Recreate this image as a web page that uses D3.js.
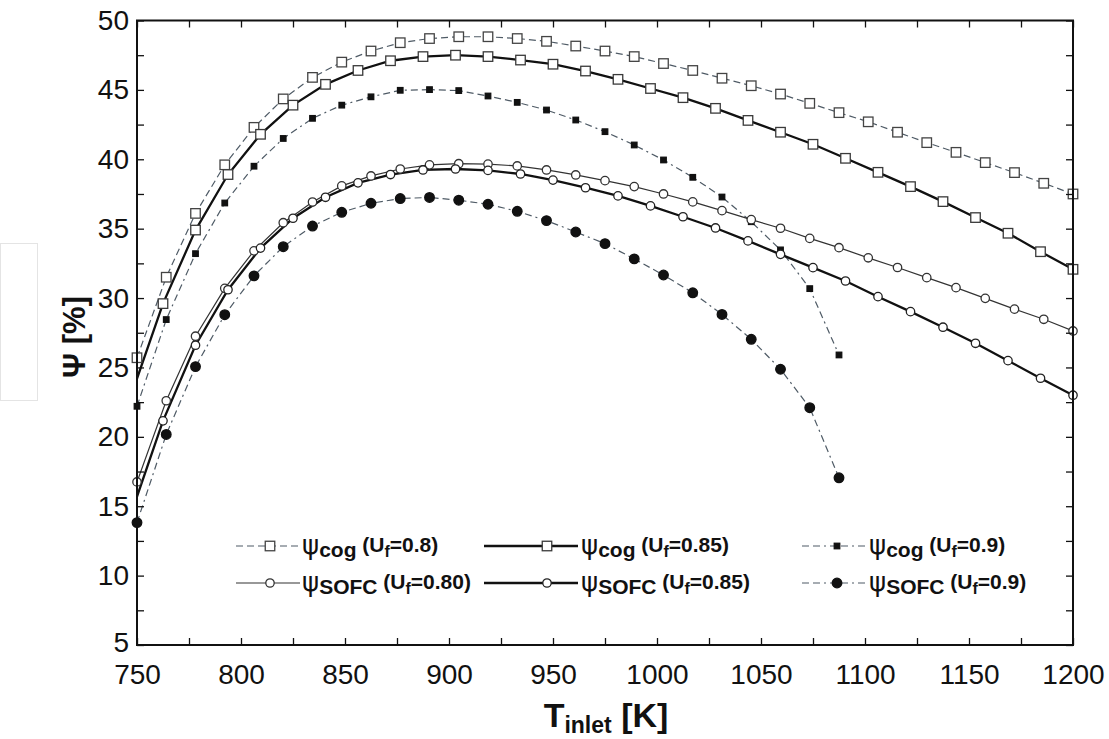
<!DOCTYPE html>
<html><head><meta charset="utf-8">
<script src="https://cdn.jsdelivr.net/npm/d3@7"></script>
<style>
html,body{margin:0;padding:0;background:#fff;}
svg{display:block;}
text{font-family:"Liberation Sans",Arial,sans-serif;}
</style></head>
<body><svg id="c" width="1109" height="739"></svg>
<script>
// ---- data ----
const T_a = [750, 764.06, 778.13, 792.19, 806.25, 820.31, 834.38, 848.44, 862.5, 876.56, 890.63, 904.69, 918.75, 932.81, 946.88, 960.94, 975, 989.06, 1003.13, 1017.19, 1031.25, 1045.31, 1059.38, 1073.44, 1087.5, 1101.56, 1115.63, 1129.69, 1143.75, 1157.81, 1171.88, 1185.94, 1200];
const T_b = [750, 762.5, 778.13, 793.75, 809.38, 825, 840.63, 856.25, 871.88, 887.5, 903.13, 918.75, 934.38, 950, 965.63, 981.25, 996.88, 1012.5, 1028.13, 1043.75, 1059.38, 1075, 1090.63, 1106.25, 1121.88, 1137.5, 1153.13, 1168.75, 1184.38, 1200];
const T_c = [750, 764.06, 778.13, 792.19, 806.25, 820.31, 834.38, 848.44, 862.5, 876.56, 890.63, 904.69, 918.75, 932.81, 946.88, 960.94, 975, 989.06, 1003.13, 1017.19, 1031.25, 1045.31, 1059.38, 1073.44, 1087.5];

const cog080 = [25.7, 31.5, 36.1, 39.6, 42.3, 44.35, 45.9, 47.0, 47.8, 48.4, 48.7, 48.83, 48.83, 48.7, 48.5, 48.16, 47.8, 47.4, 46.9, 46.4, 45.84, 45.3, 44.7, 44.03, 43.36, 42.7, 41.95, 41.2, 40.5, 39.76, 39.04, 38.27, 37.5];
const cog085 = [24.2, 29.6, 34.9, 38.9, 41.8, 43.9, 45.4, 46.4, 47.1, 47.4, 47.5, 47.4, 47.15, 46.85, 46.36, 45.76, 45.1, 44.44, 43.67, 42.8, 41.95, 41.08, 40.07, 39.06, 38.03, 36.95, 35.8, 34.67, 33.34, 32.07];
const cog090 = [22.2, 28.45, 33.2, 36.85, 39.5, 41.5, 42.95, 43.9, 44.5, 44.97, 45.02, 44.95, 44.56, 44.1, 43.55, 42.83, 41.99, 41.03, 39.95, 38.7, 37.28, 35.5, 33.47, 30.68, 25.9];
const sofc080 = [16.75, 22.6, 27.25, 30.7, 33.4, 35.43, 36.92, 38.08, 38.8, 39.3, 39.6, 39.68, 39.65, 39.52, 39.23, 38.87, 38.46, 38.03, 37.5, 36.93, 36.3, 35.65, 35.03, 34.3, 33.63, 32.9, 32.2, 31.47, 30.75, 29.98, 29.2, 28.47, 27.63];
const sofc085 = [15.7, 21.15, 26.6, 30.6, 33.6, 35.75, 37.26, 38.3, 38.9, 39.23, 39.3, 39.2, 38.94, 38.5, 37.95, 37.36, 36.64, 35.86, 35.05, 34.12, 33.15, 32.19, 31.23, 30.1, 29.02, 27.9, 26.74, 25.49, 24.22, 23.0];
const sofc090 = [13.82, 20.17, 25.06, 28.8, 31.6, 33.7, 35.19, 36.18, 36.83, 37.17, 37.25, 37.05, 36.76, 36.25, 35.58, 34.76, 33.92, 32.82, 31.66, 30.38, 28.82, 27.03, 24.87, 22.1, 17.05];

const xTicks = [750, 800, 850, 900, 950, 1000, 1050, 1100, 1150, 1200];
const yTicks = [5, 10, 15, 20, 25, 30, 35, 40, 45, 50];
const legendSub = ["cog", "cog", "cog", "SOFC", "SOFC", "SOFC"];
const legendUf = ["0.8", "0.85", "0.9", "0.80", "0.85", "0.9"];

// ---- chart ----
const svg = d3.select("#c");
const L = 137, R = 1073, TOP = 20.5, BOT = 645;
const x = d3.scaleLinear().domain([750, 1200]).range([L, R]);
const y = d3.scaleLinear().domain([5, 50]).range([BOT, TOP]);

// faint scan artefact box at left
svg.append("rect").attr("x", 0.5).attr("y", 243.5).attr("width", 37).attr("height", 157)
  .attr("fill", "none").attr("stroke", "#e4e4e4").attr("stroke-width", 1);

const dashGray = "#4f5b66";
const series = [
  {T: T_a, v: cog080, line: dashGray, lw: 1.2, dash: "7,4", marker: "sq", size: 9.5, fill: "#fff", mstroke: "#444", skip: 0},
  {T: T_b, v: cog085, line: "#111", lw: 2.3, dash: null, marker: "sq", size: 9.5, fill: "#fff", mstroke: "#3a3a3a", skip: 1},
  {T: T_c, v: cog090, line: dashGray, lw: 1.2, dash: "7,4,7,4,2,4", marker: "sq", size: 5.5, fill: "#111", mstroke: "#111", skip: 0},
  {T: T_a, v: sofc080, line: "#333", lw: 1.2, dash: null, marker: "ci", size: 4.2, fill: "#fff", mstroke: "#333", skip: 0},
  {T: T_b, v: sofc085, line: "#111", lw: 2.3, dash: null, marker: "ci", size: 4.2, fill: "#fff", mstroke: "#222", skip: 1},
  {T: T_c, v: sofc090, line: dashGray, lw: 1.2, dash: "7,4,7,4,2,4", marker: "ci", size: 4.8, fill: "#111", mstroke: "#111", skip: 0}
];

svg.append("clipPath").attr("id", "clip").append("rect")
  .attr("x", L).attr("y", TOP).attr("width", R - L).attr("height", BOT - TOP);

const plot = svg.append("g").attr("clip-path", "url(#clip)");
const lineGen = d3.line().x(d => x(d[0])).y(d => y(d[1]));

function drawMarker(g, s, cx, cy) {
  if (s.marker === "sq") {
    g.append("rect").attr("x", cx - s.size / 2).attr("y", cy - s.size / 2)
      .attr("width", s.size).attr("height", s.size)
      .attr("fill", s.fill).attr("stroke", s.mstroke).attr("stroke-width", 1.3);
  } else {
    g.append("circle").attr("cx", cx).attr("cy", cy).attr("r", s.size)
      .attr("fill", s.fill).attr("stroke", s.mstroke).attr("stroke-width", 1.3);
  }
}

series.forEach(s => {
  const pts = s.T.map((t, i) => [t, s.v[i]]);
  plot.append("path").attr("d", lineGen(pts)).attr("fill", "none")
    .attr("stroke", s.line).attr("stroke-width", s.lw)
    .attr("stroke-dasharray", s.dash);
});
series.forEach(s => {
  const g = svg.append("g");
  s.T.forEach((t, i) => { if (i >= s.skip) drawMarker(g, s, x(t), y(s.v[i])); });
});

// axes
const xMinor = d3.range(750, 1201, 25);
const yMinor = d3.range(5, 50.01, 2.5);
const tickFont = 28;
const gxb = svg.append("g").attr("transform", `translate(0,${BOT})`)
  .call(d3.axisBottom(x).tickValues(xMinor).tickSize(-7).tickPadding(19)
    .tickFormat(d => xTicks.includes(d) ? d : ""));
const gxt = svg.append("g").attr("transform", `translate(0,${TOP})`)
  .call(d3.axisTop(x).tickValues(xMinor).tickSize(-7).tickFormat(""));
const gyl = svg.append("g").attr("transform", `translate(${L},0)`)
  .call(d3.axisLeft(y).tickValues(yMinor).tickSize(-7).tickPadding(8)
    .tickFormat(d => yTicks.includes(d) ? d : ""));
const gyr = svg.append("g").attr("transform", `translate(${R},0)`)
  .call(d3.axisRight(y).tickValues(yMinor).tickSize(-7).tickFormat(""));
[gxb, gxt, gyl, gyr].forEach(g => {
  g.select(".domain").remove();
  g.selectAll(".tick line").attr("stroke", "#111").attr("stroke-width", 1.3);
  g.selectAll(".tick text").attr("font-size", tickFont).attr("fill", "#111")
    .attr("font-family", "'Liberation Sans', Arial, sans-serif");
});
// nudge the lowest y label up slightly so it clears the "750" label
gyl.selectAll(".tick text").filter(d => d === 5).attr("dy", "0.22em");
svg.append("rect").attr("x", L).attr("y", TOP).attr("width", R - L).attr("height", BOT - TOP)
  .attr("fill", "none").attr("stroke", "#111").attr("stroke-width", 2);

// axis titles
const xt = svg.append("text").attr("x", 606).attr("y", 727).attr("text-anchor", "middle")
  .attr("font-weight", "bold").attr("font-size", 34).attr("fill", "#111");
xt.append("tspan").text("T");
xt.append("tspan").attr("font-size", 23).attr("dy", 6).text("inlet");
xt.append("tspan").attr("dy", -6).text(" [K]");

const yt = svg.append("text").attr("transform", "translate(85,337) rotate(-90)")
  .attr("text-anchor", "middle").attr("font-weight", "bold").attr("font-size", 31).attr("fill", "#111");
yt.append("tspan").text("Ψ [%]");

// legend
const legPos = [
  {x1: 236, x2: 300, mx: 270, tx: 302, y: 546},
  {x1: 484, x2: 578, mx: 547, tx: 581, y: 546},
  {x1: 802, x2: 866, mx: 837, tx: 869, y: 546},
  {x1: 236, x2: 300, mx: 270, tx: 302, y: 583},
  {x1: 484, x2: 578, mx: 547, tx: 581, y: 583},
  {x1: 802, x2: 866, mx: 837, tx: 869, y: 583}
];
series.forEach((s, i) => {
  const p = legPos[i];
  const g = svg.append("g");
  g.append("line").attr("x1", p.x1).attr("x2", p.x2).attr("y1", p.y).attr("y2", p.y)
    .attr("stroke", s.line).attr("stroke-width", s.lw).attr("stroke-dasharray", s.dash);
  drawMarker(g, s, p.mx, p.y);
  const t = g.append("text").attr("x", p.tx).attr("y", p.y + 8).attr("fill", "#111");
  t.append("tspan").attr("font-size", 26).attr("font-family", "'DejaVu Sans', sans-serif").text("ψ");
  t.append("tspan").attr("font-size", 21).attr("font-weight", "bold").attr("dy", 3).text(legendSub[i]);
  t.append("tspan").attr("font-size", 21).attr("font-weight", "bold").attr("dy", -5).text(" (U");
  t.append("tspan").attr("font-size", 16).attr("font-weight", "bold").attr("dy", 5).text("f");
  t.append("tspan").attr("font-size", 21).attr("font-weight", "bold").attr("dy", -5).text("=" + legendUf[i] + ")");
});
</script></body></html>
